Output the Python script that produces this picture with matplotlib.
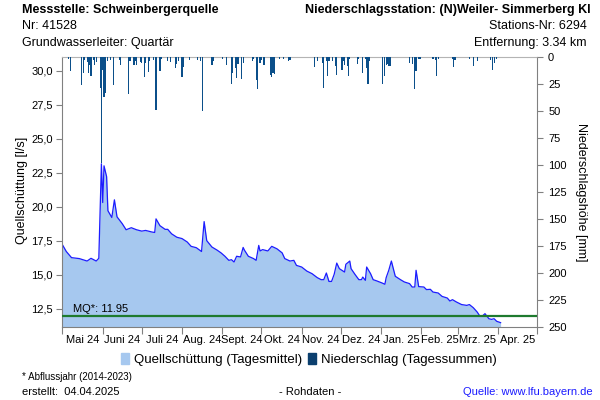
import numpy as np
import matplotlib
matplotlib.use("Agg")
import matplotlib.pyplot as plt
from matplotlib.patches import Patch

plt.rcParams['font.family'] = ['Liberation Sans', 'DejaVu Sans']

start = np.datetime64('2024-05-01')

# days after 01.05.2024 and daily mean discharge [l/s]
flow_day = [0, 3, 7, 13, 19, 22, 26, 28, 30, 31,
            32, 34, 35, 38, 40, 42, 46, 49, 53, 57,
            61, 64, 69, 71, 72, 75, 79, 81, 84, 88,
            92, 96, 99, 103, 107, 109, 111, 115, 119, 122,
            125, 128, 130, 132, 134, 137, 139, 140, 143, 147,
            149, 151, 152, 154, 158, 161, 165, 169, 171, 175,
            178, 180, 184, 188, 192, 196, 199, 201, 203, 205,
            207, 209, 211, 213, 217, 218, 221, 222, 225, 228,
            230, 231, 233, 234, 237, 239, 242, 246, 248, 249,
            251, 253, 256, 260, 263, 267, 269, 271, 272, 274,
            278, 280, 283, 285, 289, 292, 296, 298, 300, 303,
            307, 311, 313, 316, 319, 321, 323, 325, 328, 330,
            332, 334, 337]
flow_val = [17.2, 16.7, 16.25, 16.18, 16.0, 16.2, 16.0, 16.2, 23.15, 20.3,
            23.0, 22.2, 19.7, 19.2, 20.5, 19.25, 18.75, 18.3, 18.45, 18.3,
            18.2, 18.25, 18.13, 18.1, 19.1, 18.6, 18.33, 18.33, 18.0, 17.75,
            17.65, 17.4, 17.08, 16.98, 16.7, 18.9, 17.5, 17.03, 16.8, 16.6,
            16.35, 16.05, 16.1, 15.93, 16.35, 16.3, 17.0, 16.8, 16.35, 16.18,
            16.05, 17.15, 16.74, 16.84, 16.74, 17.08, 16.9, 16.6, 16.18, 16.0,
            16.05, 15.68, 15.56, 15.26, 15.07, 14.78, 14.63, 14.63, 15.12, 14.5,
            14.5, 15.02, 15.85, 15.44, 15.19, 15.76, 16.0, 15.44, 15.02, 14.63,
            14.63, 14.82, 14.58, 15.56, 15.07, 14.63, 14.53, 14.38, 14.29, 14.78,
            15.32, 16.0, 14.88, 14.63, 14.46, 14.34, 14.09, 14.09, 15.32, 14.12,
            14.09, 13.9, 13.92, 13.72, 13.65, 13.4, 13.28, 13.06, 13.16, 12.99,
            12.8, 12.74, 12.8, 12.57, 12.25, 11.96, 11.96, 12.13, 11.76, 11.71,
            11.76, 11.57, 11.47]

# daily precipitation sums [mm]
precip_day = [5, 6, 15, 16, 17, 19, 20, 21, 22, 24,
              25, 26, 29, 30, 31, 32, 33, 35, 37, 39,
              44, 45, 51, 52, 55, 56, 57, 60, 61, 63,
              64, 66, 67, 70, 72, 75, 76, 81, 83, 87,
              88, 89, 92, 93, 98, 104, 106, 108, 115, 116,
              123, 126, 130, 131, 133, 134, 135, 138, 139, 146,
              147, 149, 150, 152, 153, 155, 160, 161, 162, 163,
              167, 170, 174, 175, 194, 196, 200, 201, 203, 204,
              205, 208, 210, 211, 215, 216, 217, 219, 220, 221,
              227, 228, 231, 233, 234, 235, 236, 246, 248, 249,
              250, 251, 252, 267, 269, 271, 272, 274, 275, 285,
              287, 288, 289, 300, 301, 302, 313, 316, 319, 329,
              331, 332, 334]
precip_mm = [2.4, 13, 26, 15, 3, 5, 15, 8, 18, 3,
             7.7, 5, 29, 98, 12, 37, 34, 4, 3, 26,
             3, 8, 35, 4, 8, 4, 8, 5, 6, 19,
             6, 14, 4, 3, 49, 13, 2, 4, 5, 11,
             7, 4, 19, 10, 3, 3, 4, 50, 8, 4,
             2, 8, 25, 15, 11, 20, 7, 21, 6, 4,
             2, 22, 30, 6, 3, 8, 17, 19, 15, 16,
             2, 2, 4, 3, 10, 4, 6, 29, 4, 18,
             4, 4, 9, 17, 12, 4, 8, 9, 18, 2,
             7, 2, 15, 2, 11, 25, 4, 25, 18, 8,
             7, 9, 9, 6, 7, 30, 13, 2, 2, 2,
             3, 18, 2, 2, 9.6, 3, 2, 9, 4, 3,
             12, 6, 2]

mq = 11.95
month_labels = ["Mai 24", "Juni 24", "Juli 24", "Aug. 24", "Sept. 24", "Okt. 24",
                "Nov. 24", "Dez. 24", "Jan. 25", "Feb. 25", "Mrz. 25", "Apr. 25"]
left_ticks = [12.5, 15.0, 17.5, 20.0, 22.5, 25.0, 27.5, 30.0]
right_ticks = list(range(0, 251, 25))

# month boundaries as day numbers
months = np.arange('2024-05', '2025-06', dtype='datetime64[M]').astype('datetime64[D]')
month_pos = (months - start).astype(int)
mid_pos = (month_pos[:-1] + month_pos[1:]) / 2

fig = plt.figure(figsize=(6, 4), dpi=100)
ax = fig.add_axes([0.104, 0.1825, 0.791, 0.676])
grey = '#808080'

ybottom = 11.15
ax.fill_between(flow_day, flow_val, ybottom, color='#a6c8ef', lw=0, zorder=1)
ax.plot(flow_day, flow_val, color='#1c1cff', lw=0.9, zorder=2)
ax.axhline(mq, color='#1e7a2e', lw=1.6, zorder=3)
ax.text(8, mq + 0.12, "MQ*: " + f"{mq:.2f}", fontsize=8, va='bottom', ha='left', zorder=4)

ax.set_xlim(0, month_pos[-1])
ax.set_ylim(ybottom, 31.03)
ax.set_xticks(month_pos)
ax.set_xticklabels([])
ax.set_xticks(mid_pos, minor=True)
ax.set_xticklabels(month_labels, minor=True, fontsize=8)
ax.tick_params(axis='x', which='major', length=5, color=grey, direction='out')
ax.tick_params(axis='x', which='minor', length=0, pad=6)
ax.set_yticks(left_ticks)
ax.set_yticklabels([f"{v:.1f}".replace('.', ',') for v in left_ticks], fontsize=8)
ax.tick_params(axis='y', length=4, color=grey, pad=3)

for s in ['left', 'bottom', 'right']:
    ax.spines[s].set_color(grey)
ax.spines['top'].set_color('#b4b4b4')

ax2 = ax.twinx()
ax2.bar(precip_day, precip_mm, width=0.9, color='#0b4f8a', lw=0, align='center', zorder=1)
ax2.set_ylim(250, 0)
ax2.set_yticks(right_ticks)
ax2.set_yticklabels([str(v) for v in right_ticks], fontsize=8)
ax2.tick_params(axis='y', length=4, color=grey, pad=4)
for s in ax2.spines.values():
    s.set_visible(False)
ax2.set_xlim(ax.get_xlim())

# axis titles
fig.text(0.037, 0.525, "Quellschüttung [l/s]", fontsize=9, rotation=90, ha='center', va='center')
fig.text(0.968, 0.52, "Niederschlagshöhe [mm]", fontsize=9, rotation=270, ha='center', va='center')

# header
fig.text(0.037, 0.99, "Messstelle: Schweinbergerquelle", fontsize=9, weight='bold', va='top')
fig.text(0.037, 0.95, "Nr: 41528", fontsize=9, va='top')
fig.text(0.037, 0.908, "Grundwasserleiter: Quartär", fontsize=9, va='top')
fig.text(0.985, 0.99, "Niederschlagsstation: (N)Weiler- Simmerberg Kl", fontsize=9, weight='bold', va='top', ha='right')
fig.text(0.978, 0.95, "Stations-Nr: 6294", fontsize=9, va='top', ha='right')
fig.text(0.978, 0.908, "Entfernung: 3.34 km", fontsize=9, va='top', ha='right')

handles = [Patch(color='#a6c8ef'), Patch(color='#0b3f6e')]
fig.legend(handles, ["Quellschüttung (Tagesmittel)", "Niederschlag (Tagessummen)"],
           loc='center', bbox_to_anchor=(0.515, 0.102), ncol=2, frameon=False,
           fontsize=9.5, handlelength=0.6, handleheight=0.9, handletextpad=0.4, columnspacing=0.4)

# footer
fig.text(0.037, 0.057, "* Abflussjahr (2014-2023)", fontsize=7, va='center')
fig.text(0.037, 0.02, "erstellt:  04.04.2025", fontsize=8, va='center')
fig.text(0.517, 0.02, "- Rohdaten -", fontsize=8, va='center', ha='center')
fig.text(0.987, 0.02, "Quelle: www.lfu.bayern.de", fontsize=8, va='center', ha='right', color='#1a1aff')

fig.savefig("out.png", dpi=100)
